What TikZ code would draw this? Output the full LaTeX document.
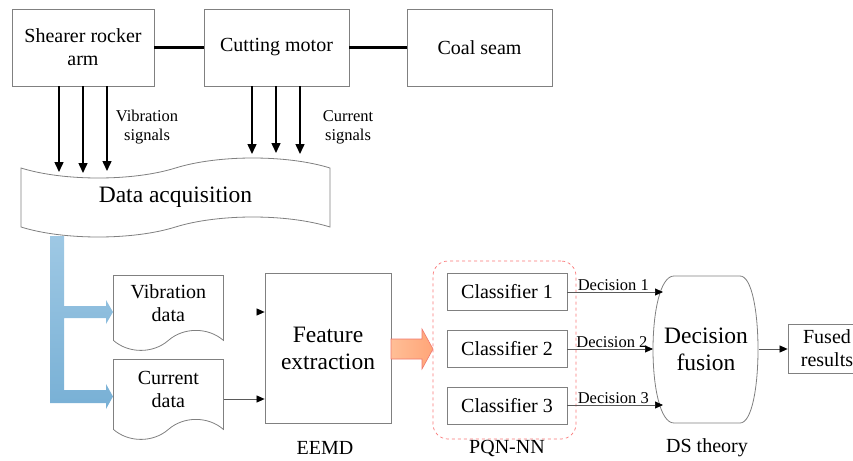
\documentclass[tikz,border=0pt]{standalone}
\usepackage{fontspec}
\setmainfont{Liberation Serif}
\usetikzlibrary{arrows.meta,positioning,shapes.symbols}
\definecolor{boxgray}{RGB}{128,128,128}
\definecolor{linegray}{RGB}{90,90,90}
\definecolor{bluetop}{RGB}{158,200,228}
\definecolor{bluebot}{RGB}{120,176,213}
\definecolor{orleft}{RGB}{255,190,150}
\definecolor{orright}{RGB}{255,165,120}
\definecolor{orline}{RGB}{240,120,110}
\definecolor{pqnred}{RGB}{250,120,120}
\begin{document}
\begin{tikzpicture}[x=1pt,y=-1pt,
  gbox/.style={draw=boxgray,line width=0.8pt,fill=white,align=center,inner sep=0pt,font=\fontsize{20}{23}\selectfont},
  doc/.style={gbox,tape,tape bend top=none,tape bend bottom=in and out,tape bend height=20pt,minimum width=110pt,anchor=north west},
  small/.style={align=center,inner sep=1pt,font=\fontsize{16.5}{19}\selectfont},
  big/.style={font=\fontsize{23.5}{27}\selectfont},
  sig/.style={-{Triangle[length=10pt,width=9pt]},line width=1.5pt},
  garr/.style={-{Triangle[length=8pt,width=7pt,color=black]},draw=linegray,line width=0.7pt}]
\useasboundingbox (0,0) rectangle (853,460);

% machine side
\node[gbox,minimum width=142pt,minimum height=77pt] (arm) at (83,47.5) {Shearer rocker\\arm};
\node[gbox,minimum width=145pt,minimum height=77pt] (motor) at (276.5,47.5) {Cutting motor};
\node[gbox,minimum width=145pt,minimum height=77pt] (seam) at (479.5,47.5) {Coal seam};
\draw[line width=3pt] (arm) -- (motor);
\draw[line width=3pt] (motor) -- (seam);

% blue split arrow (under the acquisition block)
\shade[top color=bluetop,bottom color=bluebot] (50,236) -- (64,236) -- (64,306) -- (106,306) -- (106,300) -- (113,312) -- (106,324) -- (106,318) -- (64,318) -- (64,390) -- (106,390) -- (106,384) -- (113,396.5) -- (106,409) -- (106,403) -- (50,403) -- cycle;

% data acquisition
\node[gbox,big,tape,tape bend height=20pt,minimum width=309pt,minimum height=79pt] (daq) at (175.5,197.5) {Data acquisition};

\foreach \x/\y [count=\i] in {59/172,83/173,107/171} \coordinate (vs\i) at (\x,\y);
\foreach \x/\y [count=\i] in {252/154,276/153,300/154} \coordinate (cs\i) at (\x,\y);
\foreach \i in {1,2,3} {
  \draw[sig] (arm.south -| vs\i) -- (vs\i);
  \draw[sig] (motor.south -| cs\i) -- (cs\i);
}
\node[small] (vlab) at (147,127) {Vibration\\signals};
\node[small] (clab) at (348,127) {Current\\signals};

% data files and features
\node[doc,minimum height=75pt] (vib) at (113,275) {Vibration\\data};
\node[doc,minimum height=80pt] (cur) at (113,359) {Current\\data};
\node[gbox,big,minimum width=126pt,minimum height=150pt] (feat) at (328,348) {Feature\\extraction};
\node[font=\fontsize{20}{23}\selectfont] (eemd) at (325,448) {EEMD};
\draw[garr,draw=white] (feat.west |- 0,312) ++(-10,0) coordinate (vstub) -- (feat.west |- vstub);
\draw[garr] (cur.east |- 0,399) -- (feat.west |- 0,399);
\draw[draw=orline,line width=0.6pt,left color=orleft,right color=orright] (391,339) -- (422,339) -- (422,329) -- (433,349) -- (422,369) -- (422,359) -- (391,359) -- cycle;

% classifiers
\node[draw=pqnred,dashed,line width=0.7pt,rounded corners=15pt,minimum width=143pt,minimum height=178pt] (pqn) at (504.5,350) {};
\node[gbox,minimum width=120pt,minimum height=37pt] (c1) at (507,291.5) {Classifier 1};
\node[gbox,minimum width=120pt,minimum height=37pt] (c2) at (507,348.5) {Classifier 2};
\node[gbox,minimum width=120pt,minimum height=37pt] (c3) at (507,405.5) {Classifier 3};
\node[font=\fontsize{20}{23}\selectfont] (pqnlab) at (507,448) {PQN-NN};

% decision fusion
\node[big,align=center,minimum width=105pt,minimum height=147pt] (fusion) at (706,349.5) {Decision\\fusion};
\draw[draw=boxgray,line width=0.8pt] (674,276) -- (740,276) .. controls (764,276) and (764,423) .. (740,423) -- (674,423) .. controls (646,423) and (646,276) .. (674,276) -- cycle;
\coordinate (d1) at (663,292);
\coordinate (d2) at (653,349);
\coordinate (d3) at (663,405);
\draw[garr] (c1.east |- d1) -- node[small,above,pos=0.48] {Decision 1} (d1);
\draw[garr] (c2.east |- d2) -- node[small,above,pos=0.52] {Decision 2} (d2);
\draw[garr] (c3.east |- d3) -- node[small,above,pos=0.48] {Decision 3} (d3);
\node[font=\fontsize{20}{23}\selectfont] (dslab) at (707,448) {DS theory};

\node[gbox,minimum width=78pt,minimum height=49pt] (fused) at (827,348.5) {Fused\\results};
\draw[garr] (fusion.east |- d2) -- (fused.west |- d2);
\end{tikzpicture}
\end{document}
